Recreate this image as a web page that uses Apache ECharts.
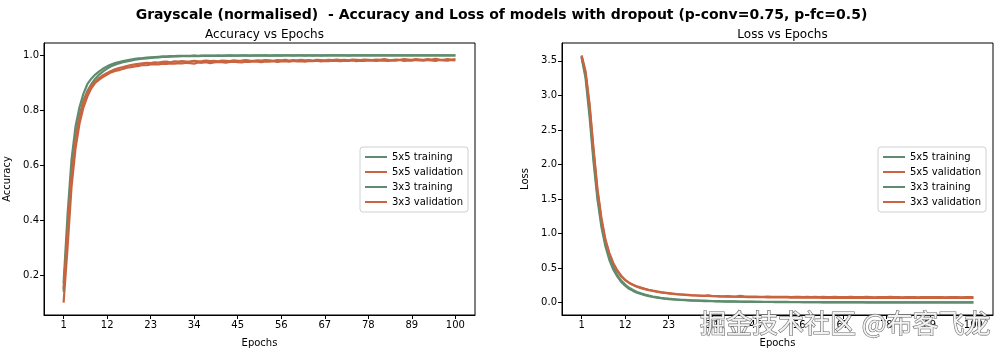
<!DOCTYPE html>
<html>
<head>
<meta charset="utf-8">
<script src="https://cdn.jsdelivr.net/npm/echarts@6/dist/echarts.min.js"></script>
<style>
html,body{margin:0;padding:0;background:#fff;}
#chart{width:1003px;height:353px;}
</style>
</head>
<body>
<div id="chart"></div>
<script>
// ---------------- data ----------------
const epochs = Array.from({length: 100}, (_, i) => i + 1);
const xTicks = [1, 12, 23, 34, 45, 56, 67, 78, 89, 100];
const accTicks = [0.2, 0.4, 0.6, 0.8, 1.0];
const lossTicks = [0.0, 0.5, 1.0, 1.5, 2.0, 2.5, 3.0, 3.5];
const seriesNames = ['5x5 training', '5x5 validation', '3x3 training', '3x3 validation'];

const acc5Train = [
0.170,0.420,0.620,0.740,0.810,0.860,0.895,0.915,0.930,0.942,
0.952,0.960,0.967,0.972,0.976,0.979,0.982,0.985,0.987,0.989,
0.990,0.992,0.993,0.994,0.995,0.996,0.996,0.997,0.997,0.998,
0.998,0.998,0.998,0.999,0.998,0.999,0.999,0.999,0.999,0.999,
0.999,0.999,1.000,0.999,0.999,1.000,1.000,0.999,1.000,1.000,
1.000,1.000,0.999,1.000,1.000,1.000,1.000,1.000,1.000,1.000,
1.000,1.000,1.000,0.999,1.000,1.000,1.000,1.000,1.000,1.000,
1.000,1.000,1.000,1.000,1.000,1.000,1.000,1.000,1.000,1.000,
1.000,1.000,1.000,1.000,1.000,1.000,1.000,1.000,1.000,1.000,
1.000,1.000,1.000,1.000,1.000,1.000,1.000,1.000,1.000,1.000];
const acc5Val = [
0.100,0.300,0.520,0.660,0.750,0.810,0.850,0.880,0.900,0.912,
0.922,0.930,0.938,0.943,0.946,0.951,0.955,0.957,0.960,0.962,
0.965,0.964,0.967,0.968,0.967,0.970,0.969,0.971,0.970,0.972,
0.971,0.973,0.972,0.970,0.974,0.973,0.975,0.972,0.974,0.976,
0.975,0.973,0.976,0.977,0.975,0.974,0.977,0.976,0.978,0.977,
0.975,0.978,0.977,0.979,0.976,0.978,0.979,0.977,0.980,0.978,
0.979,0.977,0.980,0.979,0.981,0.978,0.980,0.979,0.981,0.980,
0.979,0.981,0.980,0.982,0.979,0.981,0.980,0.982,0.981,0.980,
0.982,0.981,0.980,0.982,0.981,0.983,0.980,0.982,0.981,0.983,
0.982,0.981,0.983,0.982,0.980,0.983,0.982,0.981,0.983,0.982];
const acc3Train = [
0.140,0.370,0.570,0.700,0.780,0.835,0.870,0.895,0.915,0.930,
0.942,0.952,0.960,0.966,0.971,0.975,0.978,0.981,0.984,0.986,
0.988,0.989,0.991,0.992,0.993,0.994,0.994,0.995,0.996,0.996,
0.997,0.997,0.997,0.998,0.997,0.998,0.998,0.998,0.998,0.999,
0.998,0.999,0.999,0.999,0.999,0.999,0.999,0.999,0.999,0.999,
0.999,1.000,0.999,0.999,1.000,0.999,1.000,1.000,0.999,1.000,
1.000,0.999,1.000,1.000,1.000,0.999,1.000,1.000,1.000,1.000,
1.000,1.000,0.999,1.000,1.000,1.000,1.000,1.000,1.000,1.000,
1.000,1.000,1.000,1.000,1.000,1.000,1.000,1.000,1.000,1.000,
1.000,1.000,1.000,1.000,1.000,1.000,1.000,1.000,1.000,1.000];
const acc3Val = [
0.150,0.360,0.560,0.690,0.770,0.830,0.865,0.890,0.905,0.918,
0.928,0.936,0.943,0.949,0.954,0.957,0.961,0.965,0.967,0.969,
0.971,0.973,0.972,0.975,0.974,0.976,0.977,0.975,0.978,0.977,
0.979,0.977,0.978,0.980,0.978,0.979,0.981,0.979,0.980,0.978,
0.981,0.980,0.979,0.982,0.980,0.981,0.983,0.981,0.980,0.982,
0.981,0.983,0.982,0.980,0.983,0.982,0.984,0.981,0.983,0.982,
0.984,0.982,0.983,0.981,0.984,0.983,0.982,0.984,0.983,0.985,
0.983,0.984,0.982,0.985,0.984,0.983,0.985,0.984,0.983,0.985,
0.984,0.986,0.984,0.983,0.985,0.984,0.986,0.985,0.984,0.986,
0.985,0.984,0.986,0.985,0.987,0.985,0.984,0.986,0.985,0.986];

const loss5Train = [
3.550,3.250,2.700,2.050,1.500,1.100,0.820,0.620,0.480,0.380,
0.300,0.245,0.200,0.170,0.145,0.125,0.108,0.094,0.082,0.072,
0.064,0.057,0.051,0.046,0.042,0.038,0.035,0.032,0.029,0.027,
0.025,0.023,0.021,0.020,0.018,0.017,0.016,0.015,0.014,0.013,
0.013,0.012,0.011,0.011,0.010,0.010,0.009,0.009,0.009,0.008,
0.008,0.008,0.007,0.007,0.007,0.007,0.006,0.006,0.006,0.006,
0.006,0.005,0.005,0.005,0.005,0.005,0.005,0.005,0.004,0.004,
0.004,0.004,0.004,0.004,0.004,0.004,0.004,0.004,0.004,0.004,
0.004,0.004,0.003,0.003,0.003,0.003,0.003,0.003,0.003,0.003,
0.003,0.003,0.003,0.003,0.003,0.003,0.003,0.003,0.003,0.003];
const loss5Val = [
3.570,3.320,2.850,2.200,1.620,1.200,0.900,0.700,0.560,0.460,
0.380,0.325,0.285,0.255,0.230,0.210,0.195,0.180,0.168,0.158,
0.148,0.140,0.133,0.128,0.122,0.118,0.113,0.110,0.106,0.103,
0.100,0.098,0.104,0.096,0.094,0.092,0.091,0.093,0.089,0.088,
0.099,0.090,0.087,0.086,0.088,0.085,0.084,0.086,0.083,0.084,
0.082,0.085,0.083,0.081,0.084,0.082,0.080,0.083,0.081,0.082,
0.080,0.083,0.081,0.079,0.082,0.080,0.081,0.079,0.082,0.080,
0.081,0.079,0.082,0.080,0.078,0.081,0.079,0.080,0.082,0.079,
0.080,0.078,0.081,0.079,0.080,0.078,0.081,0.080,0.079,0.081,
0.079,0.080,0.078,0.081,0.079,0.080,0.078,0.080,0.081,0.080];
const loss3Train = [
3.560,3.300,2.780,2.120,1.560,1.150,0.860,0.660,0.510,0.400,
0.320,0.262,0.215,0.182,0.155,0.134,0.116,0.101,0.089,0.079,
0.070,0.063,0.057,0.052,0.047,0.043,0.040,0.037,0.034,0.032,
0.030,0.028,0.026,0.024,0.023,0.021,0.020,0.019,0.018,0.017,
0.016,0.015,0.015,0.014,0.013,0.013,0.012,0.012,0.011,0.011,
0.010,0.010,0.010,0.009,0.009,0.009,0.008,0.008,0.008,0.008,
0.007,0.007,0.007,0.007,0.007,0.006,0.006,0.006,0.006,0.006,
0.006,0.006,0.005,0.005,0.005,0.005,0.005,0.005,0.005,0.005,
0.005,0.005,0.005,0.004,0.004,0.004,0.004,0.004,0.004,0.004,
0.004,0.004,0.004,0.004,0.004,0.004,0.004,0.004,0.004,0.004];
const loss3Val = [
3.580,3.350,2.880,2.240,1.650,1.230,0.920,0.720,0.575,0.470,
0.390,0.330,0.290,0.260,0.235,0.218,0.200,0.186,0.173,0.162,
0.152,0.144,0.137,0.130,0.124,0.119,0.115,0.111,0.107,0.104,
0.102,0.099,0.097,0.095,0.093,0.090,0.089,0.087,0.086,0.085,
0.083,0.082,0.081,0.080,0.079,0.078,0.078,0.077,0.076,0.076,
0.075,0.074,0.075,0.073,0.074,0.072,0.073,0.072,0.071,0.072,
0.071,0.070,0.072,0.070,0.071,0.069,0.070,0.071,0.069,0.070,
0.069,0.071,0.070,0.069,0.071,0.070,0.069,0.070,0.071,0.069,
0.070,0.069,0.071,0.070,0.069,0.070,0.071,0.069,0.070,0.069,
0.071,0.070,0.069,0.070,0.071,0.069,0.070,0.070,0.069,0.070];

// ---------------- chart ----------------
const GREEN = '#5f8c6e';
const ORANGE = '#c8643f';
const colors = [GREEN, ORANGE, GREEN, ORANGE];
const FONT = 'DejaVu Sans';

const chart = echarts.init(document.getElementById('chart'), null, {renderer: 'canvas'});

function pairs(ys) { return epochs.map((e, i) => [e, ys[i]]); }

function xAxisDef(gridIndex) {
  return {
    type: 'value', gridIndex, min: -3.95, max: 104.95,
    name: 'Epochs', nameLocation: 'middle', nameGap: 23,
    nameTextStyle: {fontFamily: FONT, fontSize: 10, color: '#000'},
    axisLine: {show: true, onZero: false, lineStyle: {color: '#000', width: 1}},
    axisTick: {show: true, inside: false, length: 4, customValues: xTicks, lineStyle: {color: '#000'}},
    axisLabel: {show: true, customValues: xTicks, fontFamily: FONT, fontSize: 10, color: '#000', margin: 5},
    splitLine: {show: false}
  };
}
function yAxisDef(gridIndex, min, max, ticks, name) {
  return {
    type: 'value', gridIndex, min, max,
    name, nameLocation: 'middle', nameGap: 32, nameRotate: 90,
    nameTextStyle: {fontFamily: FONT, fontSize: 10, color: '#000'},
    axisLine: {show: true, onZero: false, lineStyle: {color: '#000', width: 1}},
    axisTick: {show: true, inside: false, length: 4, customValues: ticks, lineStyle: {color: '#000'}},
    axisLabel: {show: true, customValues: ticks, fontFamily: FONT, fontSize: 10, color: '#000', margin: 5,
      formatter: v => v.toFixed(1)},
    splitLine: {show: false}
  };
}
function legendDef(left) {
  return {
    orient: 'vertical', left, top: 147,
    data: seriesNames.map(n => ({name: n})),
    icon: 'rect', itemWidth: 22, itemHeight: 2, itemGap: 3,
    textStyle: {fontFamily: FONT, fontSize: 10, color: '#000', lineHeight: 12},
    borderColor: '#d0d0d0', borderWidth: 1, borderRadius: 3, padding: [4, 5, 4, 5],
    backgroundColor: 'rgba(255,255,255,0.8)',
    selectedMode: false
  };
}

const accData = [acc5Train, acc5Val, acc3Train, acc3Val];
const lossData = [loss5Train, loss5Val, loss3Train, loss3Val];

const series = [];
seriesNames.forEach((n, i) => {
  series.push({name: n, type: 'line', xAxisIndex: 0, yAxisIndex: 0, data: pairs(accData[i]),
    showSymbol: false, symbol: 'none', lineStyle: {color: colors[i], width: 2.2}, itemStyle: {color: colors[i]},
    animation: false});
});
seriesNames.forEach((n, i) => {
  series.push({name: n, type: 'line', xAxisIndex: 1, yAxisIndex: 1, data: pairs(lossData[i]),
    showSymbol: false, symbol: 'none', lineStyle: {color: colors[i], width: 2.2}, itemStyle: {color: colors[i]},
    animation: false});
});

chart.setOption({
  backgroundColor: '#fff',
  animation: false,
  title: [
    {text: 'Grayscale (normalised)  - Accuracy and Loss of models with dropout (p-conv=0.75, p-fc=0.5)',
     left: 'center', top: 3, textStyle: {fontFamily: FONT, fontSize: 14, fontWeight: 'bold', color: '#000'}},
    {text: 'Accuracy vs Epochs', left: 259.5, textAlign: 'center', top: 24,
     textStyle: {fontFamily: FONT, fontSize: 12, fontWeight: 'normal', color: '#000'}},
    {text: 'Loss vs Epochs', left: 777.5, textAlign: 'center', top: 24,
     textStyle: {fontFamily: FONT, fontSize: 12, fontWeight: 'normal', color: '#000'}}
  ],
  grid: [
    {left: 44, right: 528, top: 43, bottom: 38, show: true, borderColor: '#000', borderWidth: 1, containLabel: false},
    {left: 562, right: 10, top: 43, bottom: 38, show: true, borderColor: '#000', borderWidth: 1, containLabel: false}
  ],
  xAxis: [xAxisDef(0), xAxisDef(1)],
  yAxis: [yAxisDef(0, 0.055, 1.045, accTicks, 'Accuracy'), yAxisDef(1, -0.179, 3.759, lossTicks, 'Loss')],
  legend: [legendDef(360), legendDef(878)],
  series,
  graphic: [{
    type: 'text', right: 12, top: 310, z: 100,
    style: {text: '掘金技术社区 @布客飞龙', fontFamily: 'Noto Sans CJK SC', fontSize: 26,
      fill: '#f2f2f2', stroke: '#6a6a6a', lineWidth: 1.2}
  }]
});
</script>
</body>
</html>
